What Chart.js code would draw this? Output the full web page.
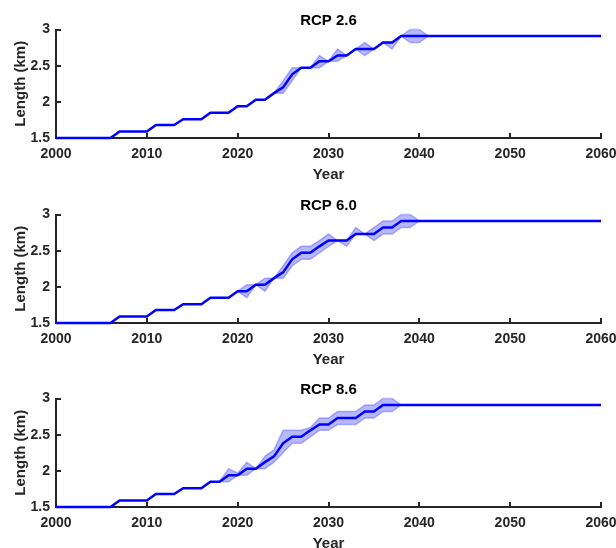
<!DOCTYPE html>
<html>
<head>
<meta charset="utf-8">
<script src="https://cdn.jsdelivr.net/npm/chart.js@4.4.1/dist/chart.umd.min.js"></script>
<style>
  html, body { margin: 0; padding: 0; background: #fff; overflow: hidden; width: 616px; height: 548px; }
  .panel { position: absolute; left: 0; width: 616px; height: 185px; }
</style>
</head>
<body>
<div class="panel" style="top:0"><canvas id="rcp26"></canvas></div>
<div class="panel" style="top:185px"><canvas id="rcp60"></canvas></div>
<div class="panel" style="top:369px"><canvas id="rcp86"></canvas></div>
<script>
// ── Data ────────────────────────────────────────────────────────

const YEARS = [
  2000, 2001, 2002, 2003, 2004, 2005, 2006, 2007, 2008, 2009,
  2010, 2011, 2012, 2013, 2014, 2015, 2016, 2017, 2018, 2019,
  2020, 2021, 2022, 2023, 2024, 2025, 2026, 2027, 2028, 2029,
  2030, 2031, 2032, 2033, 2034, 2035, 2036, 2037, 2038, 2039,
  2040, 2041, 2042, 2043, 2044, 2045, 2046, 2047, 2048, 2049,
  2050, 2051, 2052, 2053, 2054, 2055, 2056, 2057, 2058, 2059,
  2060,
];

const X_TICKS = [2000, 2010, 2020, 2030, 2040, 2050, 2060];
const Y_TICKS = [1.5, 2, 2.5, 3];

// RCP 2.6
const MEAN_26 = [
  1.5, 1.5, 1.5, 1.5, 1.5, 1.5, 1.5, 1.59, 1.59, 1.59,
  1.59, 1.68, 1.68, 1.68, 1.76, 1.76, 1.76, 1.85, 1.85, 1.85,
  1.94, 1.94, 2.03, 2.03, 2.12, 2.2, 2.38, 2.47, 2.47, 2.56,
  2.56, 2.64, 2.64, 2.73, 2.73, 2.73, 2.82, 2.82, 2.91, 2.91,
  2.91, 2.91, 2.91, 2.91, 2.91, 2.91, 2.91, 2.91, 2.91, 2.91,
  2.91, 2.91, 2.91, 2.91, 2.91, 2.91, 2.91, 2.91, 2.91, 2.91,
  2.91,
];
const BAND_START_26 = 2023;
const LOWER_26 = [2.03, 2.12, 2.12, 2.29, 2.47, 2.47, 2.47, 2.56, 2.56, 2.64, 2.73, 2.64, 2.73, 2.82, 2.73, 2.91, 2.82, 2.82, 2.91];
const UPPER_26 = [2.03, 2.12, 2.29, 2.47, 2.47, 2.47, 2.64, 2.56, 2.73, 2.64, 2.73, 2.82, 2.73, 2.82, 2.82, 2.91, 3.0, 3.0, 2.91];

// RCP 6.0
const MEAN_60 = [
  1.5, 1.5, 1.5, 1.5, 1.5, 1.5, 1.5, 1.59, 1.59, 1.59,
  1.59, 1.68, 1.68, 1.68, 1.76, 1.76, 1.76, 1.85, 1.85, 1.85,
  1.94, 1.94, 2.03, 2.03, 2.12, 2.2, 2.38, 2.47, 2.47, 2.56,
  2.64, 2.64, 2.64, 2.73, 2.73, 2.73, 2.82, 2.82, 2.91, 2.91,
  2.91, 2.91, 2.91, 2.91, 2.91, 2.91, 2.91, 2.91, 2.91, 2.91,
  2.91, 2.91, 2.91, 2.91, 2.91, 2.91, 2.91, 2.91, 2.91, 2.91,
  2.91,
];
const BAND_START_60 = 2020;
const LOWER_60 = [1.94, 1.85, 2.03, 1.94, 2.12, 2.12, 2.29, 2.38, 2.38, 2.47, 2.56, 2.64, 2.56, 2.73, 2.73, 2.64, 2.73, 2.73, 2.82, 2.82, 2.91];
const UPPER_60 = [1.94, 2.03, 2.03, 2.12, 2.12, 2.29, 2.47, 2.56, 2.56, 2.64, 2.73, 2.64, 2.64, 2.82, 2.73, 2.82, 2.91, 2.91, 3.0, 3.0, 2.91];

// RCP 8.6
const MEAN_86 = [
  1.5, 1.5, 1.5, 1.5, 1.5, 1.5, 1.5, 1.59, 1.59, 1.59,
  1.59, 1.68, 1.68, 1.68, 1.76, 1.76, 1.76, 1.85, 1.85, 1.94,
  1.94, 2.03, 2.03, 2.12, 2.2, 2.38, 2.47, 2.47, 2.56, 2.64,
  2.64, 2.73, 2.73, 2.73, 2.82, 2.82, 2.91, 2.91, 2.91, 2.91,
  2.91, 2.91, 2.91, 2.91, 2.91, 2.91, 2.91, 2.91, 2.91, 2.91,
  2.91, 2.91, 2.91, 2.91, 2.91, 2.91, 2.91, 2.91, 2.91, 2.91,
  2.91,
];
const BAND_START_86 = 2018;
const LOWER_86 = [1.85, 1.85, 1.94, 1.94, 2.03, 2.03, 2.12, 2.25, 2.38, 2.38, 2.47, 2.56, 2.56, 2.64, 2.64, 2.64, 2.73, 2.73, 2.82, 2.82, 2.91];
const UPPER_86 = [1.85, 2.03, 1.97, 2.12, 2.03, 2.2, 2.29, 2.56, 2.56, 2.56, 2.6, 2.73, 2.73, 2.82, 2.82, 2.82, 2.91, 2.91, 3.0, 3.0, 2.91];

// ── Style ───────────────────────────────────────────────────────

const FONT = "'Liberation Sans', Arial, Helvetica, sans-serif";
const AXIS_COLOR = "#262626";
const LINE_COLOR = "#0000ff";
const BAND_FILL = "rgba(40,40,255,0.33)";
const BAND_EDGE = "rgba(40,40,255,0.33)";

// MATLAB-style ticks pointing into the plot
const inwardTicks = {
  id: "inwardTicks",
  beforeDatasetsDraw(chart) {
    const { ctx, chartArea, scales } = chart;
    ctx.save();
    ctx.strokeStyle = AXIS_COLOR;
    ctx.lineWidth = 2;
    ctx.beginPath();
    scales.x.ticks.forEach(t => {
      const px = Math.round(scales.x.getPixelForValue(t.value));
      ctx.moveTo(px, chartArea.bottom);
      ctx.lineTo(px, chartArea.bottom - 5);
    });
    scales.y.ticks.forEach(t => {
      const py = Math.round(scales.y.getPixelForValue(t.value));
      ctx.moveTo(chartArea.left, py);
      ctx.lineTo(chartArea.left + 5, py);
    });
    ctx.stroke();
    ctx.restore();
  },
};

function toPoints(years, values) {
  return values.map((v, i) => ({ x: years[i], y: v }));
}

function bandYears(start, len) {
  const i0 = YEARS.indexOf(start);
  return YEARS.slice(i0, i0 + len);
}

// ── Render one panel ────────────────────────────────────────────

function renderPanel(canvasId, title, mean, bandStart, lower, upper) {
  const ctx = document.getElementById(canvasId).getContext("2d");
  const by = bandYears(bandStart, lower.length);

  return new Chart(ctx, {
    type: "line",
    data: {
      datasets: [
        {
          label: "Mean",
          data: toPoints(YEARS, mean),
          borderColor: LINE_COLOR,
          borderWidth: 2.5,
          pointRadius: 0,
          tension: 0,
          fill: false,
          clip: 6,
          order: 0,
        },
        {
          label: "Lower",
          data: toPoints(by, lower),
          borderColor: BAND_EDGE,
          borderWidth: 1.5,
          pointRadius: 0,
          tension: 0,
          fill: false,
          clip: 6,
          order: 2,
        },
        {
          label: "Upper",
          data: toPoints(by, upper),
          borderColor: BAND_EDGE,
          backgroundColor: BAND_FILL,
          borderWidth: 1.5,
          pointRadius: 0,
          tension: 0,
          fill: "-1",
          clip: 6,
          order: 1,
        },
      ],
    },
    options: {
      responsive: true,
      maintainAspectRatio: false,
      animation: false,
      events: [],
      layout: { padding: { left: 0, right: 15, top: 0, bottom: 0 } },
      plugins: {
        legend: { display: false },
        tooltip: { enabled: false },
        title: {
          display: true,
          text: title,
          fullSize: false,
          color: "#000",
          font: { family: FONT, size: 15, weight: "bold", lineHeight: 1.1 },
          padding: { top: 13, bottom: 0 },
        },
      },
      scales: {
        x: {
          type: "linear",
          min: 2000,
          max: 2060,
          afterBuildTicks: (s) => { s.ticks = X_TICKS.map(v => ({ value: v })); },
          afterFit: (s) => { s.height = 47; s.paddingLeft = 0; s.paddingRight = 0; },
          grid: { display: false, drawTicks: false },
          border: { display: true, color: AXIS_COLOR, width: 2 },
          ticks: {
            color: AXIS_COLOR,
            padding: 8,
            maxRotation: 0,
            font: { family: FONT, size: 14, weight: "bold" },
            callback: (v) => String(v),
          },
          title: {
            display: true,
            text: "Year",
            color: AXIS_COLOR,
            font: { family: FONT, size: 15, weight: "bold" },
            padding: { top: 0, bottom: 1 },
          },
        },
        y: {
          type: "linear",
          min: 1.5,
          max: 3,
          afterBuildTicks: (s) => { s.ticks = Y_TICKS.map(v => ({ value: v })); },
          afterFit: (s) => { s.width = 56; },
          grid: { display: false, drawTicks: false },
          border: { display: true, color: AXIS_COLOR, width: 2 },
          ticks: {
            color: AXIS_COLOR,
            padding: 6,
            font: { family: FONT, size: 14, weight: "bold" },
            callback: (v) => String(v),
          },
          title: {
            display: true,
            text: "Length (km)",
            color: AXIS_COLOR,
            font: { family: FONT, size: 15, weight: "bold" },
            padding: { top: 12, bottom: 0 },
          },
        },
      },
    },
    plugins: [inwardTicks],
  });
}

renderPanel("rcp26", "RCP 2.6", MEAN_26, BAND_START_26, LOWER_26, UPPER_26);
renderPanel("rcp60", "RCP 6.0", MEAN_60, BAND_START_60, LOWER_60, UPPER_60);
renderPanel("rcp86", "RCP 8.6", MEAN_86, BAND_START_86, LOWER_86, UPPER_86);
</script>
</body>
</html>
